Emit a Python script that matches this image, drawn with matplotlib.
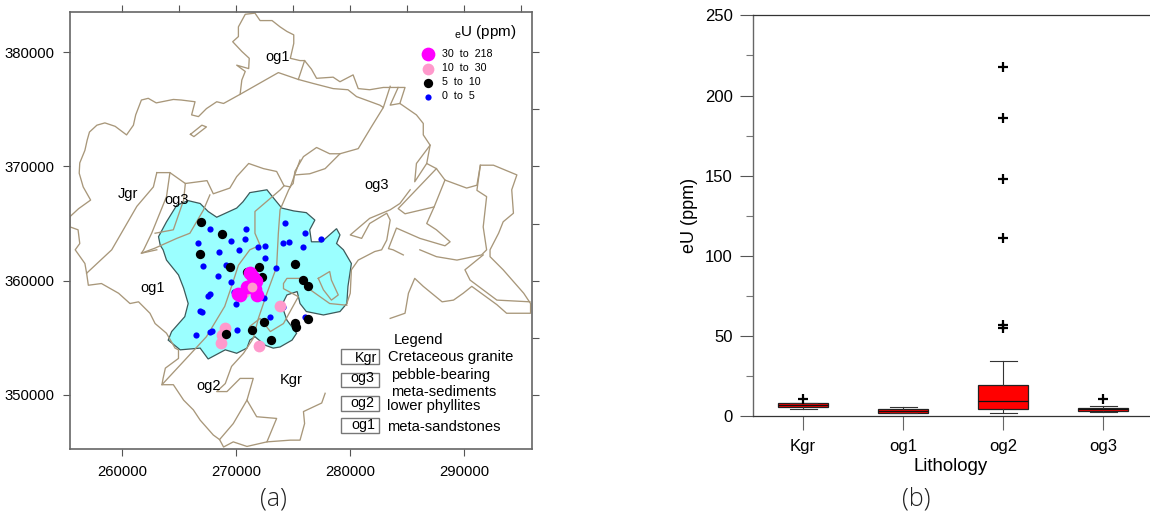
#!/usr/bin/env python3
#
# eU map of the study area (a) and eU per lithology (b)
#
import matplotlib
matplotlib.use('Agg')
import matplotlib.pyplot as plt
from matplotlib.patches import Rectangle
from matplotlib.ticker import MultipleLocator

plt.rcParams['font.family'] = ['Liberation Sans', 'DejaVu Sans']

# Sample points, easting and northing in km
blue_e = [267.71, 270.87, 274.29, 276.07, 277.45, 266.69, 269.52, 270.75, 274.11, 274.67, 275.87,
          271.89, 272.53, 268.5, 270.28, 272.5, 267.09, 269.11, 268.44, 273.5, 269.55, 269.81,
          267.71, 267.53, 272.45, 269.99, 266.83, 267.04, 273.0, 276.04, 274.14, 270.05, 266.45,
          267.71, 267.88]
blue_n = [364.52, 364.55, 365.07, 364.17, 363.67, 363.27, 363.44, 363.62, 363.27, 363.35, 362.97,
          362.92, 363.06, 362.51, 362.68, 362.01, 361.25, 361.4, 360.38, 361.11, 359.85, 358.98,
          358.83, 358.69, 358.45, 357.96, 357.38, 357.23, 356.79, 356.85, 357.67, 355.66, 355.28,
          355.54, 355.57]
black_e = [266.92, 268.73, 266.8, 269.46, 272.04, 270.93, 272.24, 275.16, 275.9, 276.33, 276.33,
           275.16, 275.22, 272.45, 271.39, 273.03, 269.11]
black_n = [365.1, 364.11, 362.33, 361.17, 361.2, 360.79, 360.35, 361.43, 360.03, 359.5, 356.68,
           356.27, 355.98, 356.36, 355.68, 354.84, 355.31]
pink_e = [273.85, 272.0, 269.02, 268.73, 268.64, 270.69]
pink_n = [357.76, 354.32, 355.83, 355.25, 354.58, 359.04]
magenta_e = [271.22, 271.51, 271.74, 270.98, 271.66, 271.86, 270.34, 270.19]
magenta_n = [360.64, 360.29, 359.97, 359.48, 359.24, 358.75, 358.72, 358.83]
pink_top_e = [271.36]
pink_top_n = [359.48]

# Outline of the sampled area
area_e = [263.2, 263.9, 264.8, 265.8, 266.85, 267.55, 268.3, 270.05, 270.6, 271.2, 272.7, 273.3, 274.0,
          275.05, 276.15, 276.9, 276.45, 276.6, 277.5, 278.8, 279.1, 278.8, 279.4, 280.1, 279.8, 279.7,
          279.1, 277.65, 276.15, 275.6, 275.35, 274.45, 274.0, 274.45, 275.3, 274.9, 273.85, 273.25,
          272.55, 271.65, 271.2, 270.95, 270.05, 269.05, 267.55, 266.85, 265.1, 264.05, 264.35, 265.5,
          265.8, 265.4, 264.95, 263.9, 263.6, 263.35]
area_n = [363.85, 365.15, 366.6, 367.0, 366.75, 366.05, 365.55, 366.35, 366.9, 367.7, 367.95, 367.2, 366.35,
          366.1, 365.95, 365.3, 364.45, 363.4, 363.4, 364.55, 364.0, 363.25, 362.7, 361.5, 359.5, 358.0,
          357.3, 357.0, 357.3, 358.0, 359.05, 358.75, 357.85, 356.55, 355.4, 354.8, 354.2, 354.1,
          354.35, 355.1, 354.8, 354.1, 353.65, 353.95, 353.15, 354.1, 353.95, 354.8, 355.55, 356.85,
          358.0, 359.35, 360.5, 361.8, 362.7, 363.1]

# Geological contacts, (easting, northing) in km
contacts = [
    # outer boundary, north
    [(255.44, 365.6), (256.2, 366.3), (257.25, 367.05), (256.6, 368.2), (256.25, 369.4), (256.3, 370.3),
     (256.75, 371.4), (256.95, 372.3), (257.15, 373.0), (257.8, 373.6), (258.5, 373.8), (259.4, 373.5),
     (260.4, 372.75), (261.0, 373.6), (261.2, 374.5), (261.7, 375.8), (262.3, 375.95), (263.0, 375.55),
     (264.5, 375.85), (265.2, 375.8), (266.4, 375.65), (266.1, 374.5), (266.7, 374.35), (267.4, 375.05),
     (268.3, 375.65), (268.9, 375.5), (270.35, 376.3), (270.5, 377.55), (270.8, 378.3), (270.05, 378.85),
     (271.1, 378.55), (271.15, 379.45), (270.5, 380.05), (269.7, 380.9), (270.2, 381.35), (270.2, 382.2),
     (270.8, 383.3), (271.65, 383.4), (272.1, 382.75), (273.15, 382.75), (273.85, 382.2), (274.45, 381.8),
     (275.05, 381.5), (275.05, 380.75), (274.75, 379.45), (275.6, 379.25), (276.0, 379.25), (276.6, 378.5),
     (277.05, 377.7), (278.5, 377.8), (279.1, 377.4), (280.25, 378.0), (280.7, 376.8), (281.7, 376.7),
     (282.9, 376.9), (284.8, 376.9), (284.35, 375.5), (285.8, 374.5), (286.4, 373.75), (286.4, 372.75),
     (287.0, 371.85), (286.7, 370.25), (287.55, 369.8), (288.3, 368.8), (290.2, 368.1), (291.1, 368.35),
     (291.4, 370.1), (292.55, 370.1), (294.6, 369.25), (294.15, 367.95), (294.3, 365.9), (293.4, 365.15),
     (293.0, 364.15), (292.25, 362.7), (292.25, 362.1), (293.4, 360.95), (295.2, 358.9), (295.8, 358.0),
     (295.8, 357.15), (293.7, 357.15), (292.85, 357.9), (290.65, 359.5), (289.9, 358.9), (289.05, 358.3),
     (288.05, 358.15), (286.4, 359.5), (285.65, 360.2), (285.1, 358.9), (284.8, 357.15), (283.5, 356.7)],
    # outer boundary, west and south
    [(255.44, 365.6), (255.45, 364.7), (256.15, 364.45), (256.3, 363.25), (255.9, 362.7), (256.75, 361.5),
     (256.9, 360.65), (257.05, 359.6), (258.2, 359.75), (259.7, 358.9), (260.7, 358.0), (261.45, 358.15),
     (262.45, 357.15), (262.9, 356.25), (263.9, 355.4), (264.65, 354.1), (264.95, 353.95), (264.95, 353.2),
     (263.8, 352.35), (263.6, 351.45), (263.5, 350.9), (264.5, 350.9), (265.4, 349.55), (266.25, 348.7),
     (266.85, 347.8), (268.0, 346.5), (268.55, 346.1), (268.9, 345.45), (269.75, 345.9), (270.95, 345.5),
     (272.7, 345.9), (274.75, 346.05), (275.6, 346.05), (276.0, 347.5), (275.9, 348.55), (277.5, 349.3),
     (277.8, 350.15)],
    # north contact
    [(270.35, 376.3), (273.7, 378.2), (275.45, 377.6), (276.75, 377.25), (278.5, 376.8), (279.8, 376.7),
     (280.55, 376.1), (282.6, 375.35), (282.9, 375.15), (281.85, 373.45), (280.7, 371.55), (279.1, 371.1),
     (278.2, 371.1), (277.05, 371.65), (275.9, 370.85), (275.15, 369.55), (275.0, 368.5), (274.7, 368.2)],
    [(283.5, 377.0), (282.9, 375.15)],
    [(284.2, 376.9), (283.5, 375.35), (284.35, 375.5)],
    [(275.45, 377.6), (276.0, 379.25)],
    [(279.1, 371.1), (277.8, 369.8), (276.45, 369.35), (275.15, 369.25)],
    [(287.0, 371.85), (285.8, 370.25), (285.65, 368.65), (286.7, 370.25)],
    # small lens near the top
    [(266.0, 372.8), (267.0, 373.6), (267.4, 373.45), (266.3, 372.6), (266.0, 372.8)],
    # east of og3
    [(287.55, 369.8), (284.2, 366.3), (284.8, 365.85), (287.35, 366.45), (288.3, 368.8)],
    [(287.35, 366.45), (286.7, 365.0), (287.55, 364.45), (288.75, 363.4), (288.3, 363.05), (286.1, 363.7),
     (284.05, 364.6), (283.35, 362.8), (283.75, 362.7), (284.65, 362.25)],
    [(286.1, 362.7), (287.55, 362.1), (289.35, 361.8), (291.5, 362.25), (291.95, 362.7), (291.65, 364.7),
     (291.95, 367.35), (291.1, 367.9), (291.4, 370.1)],
    [(291.65, 362.25), (290.05, 360.95), (290.5, 360.05), (292.85, 358.3), (295.75, 358.15)],
    [(285.25, 367.95), (284.35, 366.75), (283.5, 366.2), (281.7, 365.45), (280.0, 364.0), (281.0, 363.7),
     (281.7, 365.0), (283.2, 365.9), (283.5, 365.3), (283.2, 363.55), (282.75, 362.7), (282.15, 362.55),
     (280.7, 361.8), (280.1, 360.95), (280.0, 358.9), (279.7, 358.0)],
    # top of og3
    [(263.05, 369.45), (264.2, 369.45), (265.55, 368.5), (267.45, 368.75), (268.0, 367.6), (269.45, 368.1),
     (270.05, 369.1), (271.1, 370.25), (272.4, 369.8), (273.55, 369.55), (274.2, 368.3), (274.75, 368.2),
     (275.6, 370.55)],
    [(263.05, 369.45), (262.75, 368.2), (261.3, 366.5), (259.1, 362.7), (256.9, 360.65)],
    [(264.2, 369.45), (263.9, 367.35), (262.6, 364.15), (261.9, 362.7), (261.7, 362.4), (263.05, 362.7)],
    [(265.55, 368.5), (265.4, 367.05), (264.5, 364.45), (262.9, 364.15)],
    [(267.7, 367.5), (267.15, 366.2), (265.95, 364.15), (264.8, 363.7), (262.9, 362.85), (261.7, 362.4)],
    # contacts across the sampled area
    [(274.2, 368.3), (273.85, 367.93), (271.65, 366.05), (271.65, 364.15), (272.1, 363.1), (271.2, 362.7),
     (270.2, 361.35), (269.6, 359.5), (269.0, 357.75), (267.4, 355.1), (265.5, 353.05), (263.5, 350.9)],
    [(274.75, 368.2), (274.6, 367.93), (273.85, 366.2), (273.7, 364.15), (273.55, 361.2), (272.7, 358.9),
     (271.95, 356.7), (271.5, 354.95), (270.65, 353.65), (269.6, 352.5), (269.05, 351.0), (268.3, 350.3),
     (269.2, 350.3), (270.35, 351.45), (271.5, 351.45), (270.95, 349.55), (271.8, 348.1), (273.55, 347.95),
     (272.7, 345.9)],
    [(270.95, 349.55), (269.75, 347.5), (268.55, 346.1)],
    # loops in the east of the area
    [(277.2, 360.2), (278.2, 360.8), (278.35, 360.05), (278.95, 358.75), (278.35, 358.3), (277.65, 359.2),
     (277.2, 360.2)],
    [(271.2, 356.0), (272.1, 356.7), (273.0, 355.55), (274.15, 356.25), (275.45, 358.6), (274.15, 359.3),
     (274.15, 359.75), (274.45, 360.2), (275.6, 360.2), (276.5, 359.2), (278.2, 358.0), (279.7, 357.85)],
]

# Map labels: text, easting, northing
map_labels = [('og1', 273.6, 379.55), ('Jgr', 260.5, 367.6), ('og3', 264.8, 367.05),
              ('og3', 282.35, 368.35), ('og1', 262.7, 359.35), ('og2', 267.6, 350.8),
              ('Kgr', 274.85, 351.3)]
point_ranges = ['30  to  218', '10  to  30', '5  to  10', '0  to  5']
litho_names = ['Kgr', 'og3', 'og2', 'og1']
litho_notes = ['Cretaceous granite', 'pebble-bearing\nmeta-sediments', 'lower phyllites', 'meta-sandstones']

# Box plot
groups = ['Kgr', 'og1', 'og2', 'og3']
q1 = [6.0, 2.3, 4.8, 3.5]
med = [7.0, 3.6, 9.4, 4.5]
q3 = [8.1, 4.6, 19.3, 5.4]
whislo = [4.4, 2.0, 2.3, 2.5]
whishi = [8.1, 5.6, 34.3, 6.2]
fliers = [[10.8], [], [55, 57, 111, 148, 186, 218], [10.6]]

W, H = 1150, 513
fig = plt.figure(figsize=(W / 100, H / 100), dpi=100)


def k(values):
    return [v * 1000 for v in values]


#
# (a) map
#
ax = fig.add_axes([69.5 / W, 1 - 449.3 / H, 462.2 / W, 437.3 / H])
ax.fill(k(area_e), k(area_n), facecolor='#9bffff', edgecolor='#3c5a5a', lw=0.9, zorder=1)
for line in contacts:
    ax.plot(k([p[0] for p in line]), k([p[1] for p in line]), color='#a8977a', lw=0.95,
            solid_joinstyle='round', zorder=2)

h_blue = ax.scatter(k(blue_e), k(blue_n), s=20, color='#0000ff', lw=0, zorder=3)
h_pink = ax.scatter(k(pink_e), k(pink_n), s=72, color='#ff99cc', lw=0, zorder=4)
h_black = ax.scatter(k(black_e), k(black_n), s=45, color='k', lw=0, zorder=5)
h_magenta = ax.scatter(k(magenta_e), k(magenta_n), s=98, color='#ff00ff', lw=0, zorder=6)
ax.scatter(k(pink_top_e), k(pink_top_n), s=50, color='#ff99cc', lw=0, zorder=7)

ax.set_xlim(255400, 295900)
ax.set_ylim(345250, 383500)
ax.xaxis.set_major_locator(MultipleLocator(10000))
ax.yaxis.set_major_locator(MultipleLocator(10000))
ax.xaxis.set_minor_locator(MultipleLocator(5000))
ax.yaxis.set_minor_locator(MultipleLocator(5000))
ax.tick_params(which='major', direction='out', length=5, width=0.8, color='#555555', labelsize=10.7,
               pad=6, top=True, right=True)
ax.tick_params(which='minor', direction='out', length=5, width=0.8, color='#555555', top=True, right=True,
               bottom=False, left=False)
for s in ax.spines.values():
    s.set_color('#666666')
    s.set_linewidth(1.2)

for text, e, n in map_labels:
    ax.text(e * 1000, n * 1000, text, fontsize=10.5, ha='center', va='center', zorder=8)

leg = ax.legend([h_magenta, h_pink, h_black, h_blue], point_ranges, loc='upper left',
                bbox_to_anchor=(0.741, 0.927), frameon=False, fontsize=7.7, labelspacing=0.38,
                handletextpad=0.35, borderpad=0, scatterpoints=1)
ax.text(0.968, 0.955, r'$_{\mathregular{e}}$U (ppm)', transform=ax.transAxes, ha='right', va='center',
        fontsize=11)

# Lithology key, with hand drawn boxes
box_top = [354.0, 351.95, 349.95, 348.0]
box_bottom = [352.7, 350.7, 348.6, 346.7]
name_x = [281.4, 281.05, 281.1, 281.15]
name_y = [353.25, 351.5, 349.3, 347.4]
note_x = [283.3, 283.55, 283.2, 283.2]
note_y = [353.3, 351.0, 349.03, 347.2]
for i in range(4):
    ax.add_patch(Rectangle((279200, box_bottom[i] * 1000), 3350, (box_top[i] - box_bottom[i]) * 1000,
                           facecolor='w', edgecolor='#777777', lw=1.0, zorder=8))
    ax.text(name_x[i] * 1000, name_y[i] * 1000, litho_names[i], fontsize=10.3, ha='center', va='center',
            zorder=9)
    ax.text(note_x[i] * 1000, note_y[i] * 1000, litho_notes[i], fontsize=10.6, ha='left', va='center',
            linespacing=1.27, zorder=9)
ax.text(286000, 354800, 'Legend', fontsize=10.6, ha='center', va='center', zorder=9)

fig.text(273 / W, 1 - 499 / H, '(a)', family=['Open Sans', 'DejaVu Sans'], weight='light', fontsize=18,
         ha='center', va='center', color='#222222')

#
# (b) box plot
#
ax2 = fig.add_axes([752.7 / W, 1 - 416.3 / H, (W - 752.7) / W, 401 / H])
stats = []
for i, g in enumerate(groups):
    stats.append({'label': g, 'q1': q1[i], 'med': med[i], 'q3': q3[i], 'whislo': whislo[i],
                  'whishi': whishi[i], 'fliers': fliers[i]})
ax2.bxp(stats, positions=[1, 2, 3, 4], widths=0.5, patch_artist=True,
        boxprops={'facecolor': '#ff0000', 'edgecolor': '#222222', 'linewidth': 0.9},
        medianprops={'color': '#111111', 'linewidth': 0.9},
        whiskerprops={'color': '#333333', 'linewidth': 0.8},
        capprops={'color': '#333333', 'linewidth': 0.8}, capwidths=0.27,
        flierprops={'marker': '+', 'markeredgecolor': 'k', 'markeredgewidth': 1.6, 'markersize': 7})
ax2.set_xlim(0.497, 4.466)
ax2.set_ylim(0, 250)
ax2.yaxis.set_major_locator(MultipleLocator(50))
ax2.yaxis.set_minor_locator(MultipleLocator(25))
ax2.tick_params(axis='y', which='major', length=9.4, width=0.8, color='#555555', labelsize=12, pad=5)
ax2.tick_params(axis='y', which='minor', length=5, width=0.8, color='#777777')
ax2.tick_params(axis='x', length=10, width=0.8, color='#666666', labelsize=12, pad=6)
ax2.spines['right'].set_visible(False)
for name in ['top', 'bottom']:
    ax2.spines[name].set_color('#333333')
    ax2.spines[name].set_linewidth(0.9)
ax2.spines['left'].set_color('#666666')
ax2.spines['left'].set_linewidth(1.0)
ax2.set_ylabel('eU (ppm)', fontsize=13)
ax2.yaxis.set_label_coords((698 - 752.7) / (W - 752.7), (416.3 - 215) / 401)
ax2.set_xlabel('Lithology', fontsize=13.4)
ax2.xaxis.set_label_coords((951 - 752.7) / (W - 752.7), -0.105)

fig.text(916 / W, 1 - 499 / H, '(b)', family=['Open Sans', 'DejaVu Sans'], weight='light', fontsize=18,
         ha='center', va='center', color='#222222')

fig.savefig('out.png', dpi=100)
